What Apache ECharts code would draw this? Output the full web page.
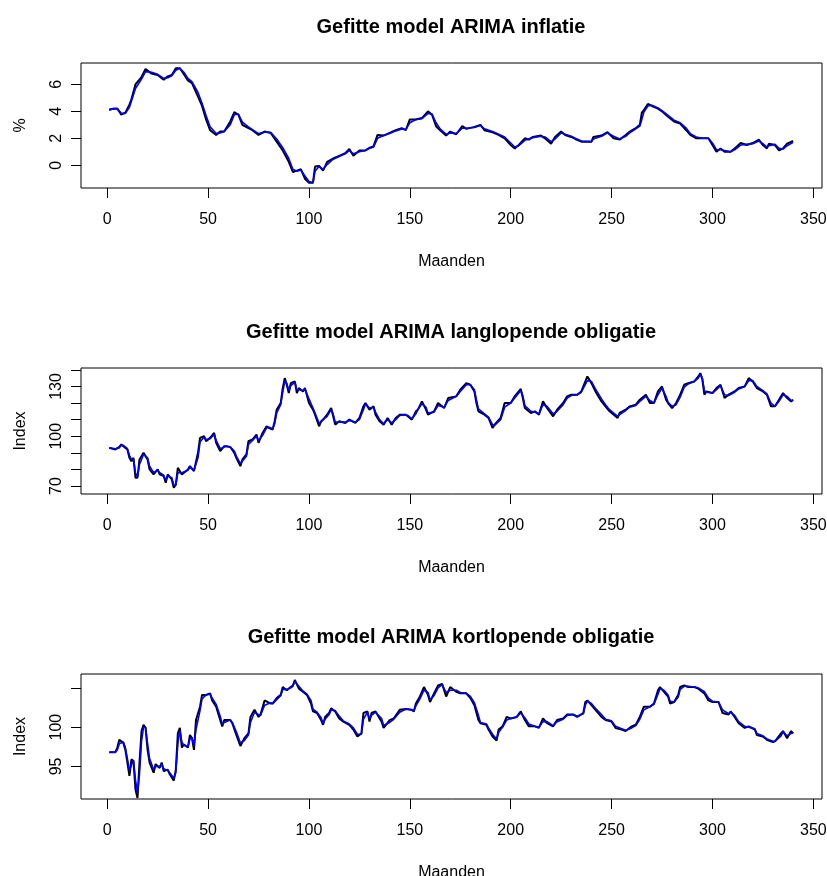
<!DOCTYPE html>
<html><head><meta charset="utf-8">
<script src="https://cdn.jsdelivr.net/npm/echarts@6/dist/echarts.min.js"></script>
<style>html,body{margin:0;padding:0;background:#fff}#c{width:827px;height:876px}</style>
</head><body><div id="c"></div>
<script>
// ---- data ----
const titles = ['Gefitte model ARIMA inflatie', 'Gefitte model ARIMA langlopende obligatie', 'Gefitte model ARIMA kortlopende obligatie'];
const xName = 'Maanden';
const yNames = ['%', 'Index', 'Index'];
const xTicks = [0, 50, 100, 150, 200, 250, 300, 350];

const yTicks1 = [0, 2, 4, 6];
const yLabels1 = [0, 2, 4, 6];
const yTicks2 = [70, 80, 90, 100, 110, 120, 130, 140];
const yLabels2 = [70, 100, 130];
const yTicks3 = [95, 100, 105];
const yLabels3 = [95, 100];

// Panel 1: inflatie
const months1 = [1,3,5,7,9,11,12,14,17,19,22,25,28,30,32,34,36,38,40,42,45,47,49,51,54,56,58,61,63,65,67,70,72,75,78,81,84,87,90,92,94,96,98,100,102,103,105,107,109,112,115,118,120,122,125,128,130,132,134,137,140,143,146,148,150,153,156,159,161,163,165,168,170,173,176,178,182,185,187,191,194,197,200,202,204,207,209,211,215,217,220,222,225,227,230,232,235,240,241,245,248,251,254,257,259,262,264,265,266,268,270,273,275,278,281,284,287,289,292,295,298,300,302,304,306,309,311,314,317,320,323,325,327,328,331,333,335,337,340];
const actual1 = [4.1,4.2,4.2,3.75,3.9,4.5,4.9,6.0,6.55,7.15,6.8,6.7,6.35,6.6,6.7,7.2,7.2,6.75,6.3,6.1,5.1,4.4,3.4,2.6,2.25,2.5,2.5,3.25,3.95,3.75,3.0,2.75,2.6,2.25,2.5,2.4,1.75,1.1,0.25,-0.5,-0.4,-0.3,-1.0,-1.3,-1.3,-0.1,-0.05,-0.4,0.25,0.5,0.7,0.9,1.2,0.7,1.1,1.1,1.3,1.4,2.25,2.2,2.4,2.6,2.75,2.6,3.4,3.4,3.5,4.0,3.75,2.9,2.6,2.2,2.5,2.3,2.9,2.7,2.85,3.0,2.6,2.45,2.25,2.0,1.5,1.25,1.5,2.0,1.9,2.1,2.2,2.0,1.6,2.1,2.5,2.25,2.1,1.95,1.75,1.75,2.1,2.2,2.45,2.0,1.9,2.25,2.5,2.75,3.0,3.9,4.1,4.55,4.4,4.2,4.0,3.6,3.25,3.1,2.6,2.25,2.0,2.0,2.0,1.5,1.0,1.25,1.0,1.0,1.25,1.65,1.5,1.65,1.9,1.5,1.25,1.6,1.5,1.1,1.25,1.6,1.8];
const fitted1 = [4.15,4.2,4.2,3.85,3.85,4.3,4.75,5.7,6.4,6.95,6.9,6.75,6.45,6.5,6.65,7.05,7.2,6.9,6.45,6.2,5.4,4.6,3.7,2.85,2.35,2.4,2.5,3.0,3.75,3.8,3.2,2.85,2.65,2.35,2.45,2.45,1.95,1.3,0.5,-0.3,-0.45,-0.35,-0.8,-1.2,-1.3,-0.45,-0.1,-0.3,0.05,0.45,0.65,0.85,1.1,0.85,1.0,1.1,1.25,1.35,2.0,2.2,2.35,2.55,2.7,2.65,3.15,3.4,3.45,3.85,3.8,3.15,2.7,2.3,2.4,2.35,2.75,2.75,2.8,2.95,2.7,2.5,2.3,2.1,1.65,1.35,1.45,1.85,1.95,2.05,2.15,2.1,1.75,1.95,2.4,2.3,2.15,2.0,1.8,1.75,1.95,2.15,2.4,2.15,1.95,2.15,2.4,2.7,2.9,3.4,3.95,4.4,4.45,4.25,4.05,3.7,3.35,3.15,2.75,2.35,2.1,2.0,2.0,1.65,1.15,1.15,1.1,1.0,1.15,1.5,1.55,1.6,1.8,1.6,1.35,1.45,1.55,1.25,1.2,1.45,1.7];

// Panel 2: langlopende obligatie
const months2 = [1,4,6,7,8,10,11,12,13,14,15,16,18,20,21,23,25,26,28,29,30,32,33,34,35,37,40,41,43,45,46,48,49,51,53,54,56,58,59,61,63,64,66,67,69,70,72,74,75,77,79,80,82,83,84,86,87,88,89,90,91,93,94,95,97,98,100,102,103,105,106,107,109,111,112,113,115,118,120,123,125,127,128,130,132,133,135,137,139,141,143,145,148,149,151,153,154,156,158,159,162,164,167,169,173,175,178,180,182,183,184,187,189,191,192,195,197,200,202,205,206,207,210,212,214,216,218,221,223,226,228,230,233,235,238,240,242,245,247,249,253,254,257,259,262,264,267,269,271,273,275,277,278,280,282,284,286,288,291,293,294,295,296,297,300,302,304,306,308,311,313,316,318,320,322,325,327,329,331,333,335,337,339,340];
const actual2 = [93,92,93.6,95,94,92,87,85,87,75,75,86,90,86,80,77,80,77,76,72,77,74,69,71,81,77,80,82,79,90,99,100,97,99,102,96,91,94,94,93.5,90,87,82,86,89,97,98,101,96,102,106,105,104,109,116,120,129,135,131,126,132,133,126,129,127,129,120,116,113,106,109,110,113,117,112,107,109,108,110,108,111,118,120,116,118,113,109,107,111,107,111,113,113,112,110,115,116,121,116,113,115,120,117,123,124,128,132,131,127,120,115,113,111,105,107,111,120,120,124,128.5,123,117,114,115,113,121,117,112,116,120,124,125,125,127,136,132,127,121,118,115,111,114,116,118,119,122,125,120,120,127,130,122,120,117,120,125,131,132,133,136,138,134,125,127,126,129,131,123,125,127,129,130,135,133,129,127,125,118,118,122,126,123,121,122];
const fitted2 = [93,92.5,93,94.5,94.5,92.5,88.5,86,86.5,78,75.5,83,89,87,82,78,79.5,78,76.5,73.5,76,75,70.5,70.5,78,78,79.5,81.5,79.5,87,96.5,99.5,98,98.5,101,97.5,92.5,93.5,94,93.5,91,88,83.5,85,88,95,97.5,100,97.5,100.5,105,105.5,104.5,107.5,114,119,126.5,133,132,127.5,130.5,132.5,128,128,127.5,128.5,122.5,117,114,108,108.5,110,112,116,113.5,108.5,108.5,108.5,109.5,108.5,110,116,119.5,117,117.5,114.5,110,107.5,110,108,110,112.5,113,112.5,110.5,113.5,116,119.5,117.5,114,114.5,118.5,117.5,121.5,124,127,131,131,128,122,116.5,113.5,111.5,107,106.5,110,117.5,120,123,127.5,124.5,118.5,115,114.5,113.5,119,118,113.5,115,119,123,124.5,125,126.5,133.5,133,128.5,122.5,119,116,112,113,115.5,117.5,118.5,121,124,121.5,120,125,129,124,120.5,118,119,123.5,129.5,131.5,133,135,137.5,135,127.5,126.5,126,128,130.5,125,124.5,126.5,128.5,130,133.5,133.5,130,127.5,125.5,120,118,121,125,124,121.5,121.5];

// Panel 3: kortlopende obligatie
const months3 = [1,4,5,6,8,9,10,11,12,13,14,15,16,17,18,19,20,21,23,24,26,27,28,30,31,33,34,35,36,37,38,40,41,42,43,44,46,47,49,51,52,54,56,57,58,61,62,64,66,68,70,71,73,75,76,78,81,82,84,86,87,89,91,92,93,95,97,99,101,102,104,106,107,108,110,111,113,115,117,120,122,124,126,127,129,130,131,133,136,137,140,142,145,148,151,152,153,155,157,159,160,162,164,166,168,170,173,175,178,180,182,184,185,188,189,191,193,194,196,198,200,203,205,207,209,212,214,216,218,221,223,226,228,231,233,236,237,238,240,242,245,247,250,252,255,257,260,262,264,266,269,271,273,274,276,278,279,281,283,284,286,288,291,293,296,298,300,303,305,308,309,311,313,316,318,321,322,325,327,330,331,334,335,337,339,340];
const actual3 = [96.8,96.8,97.4,98.4,98.0,97.1,95.5,93.8,95.9,95.7,92.1,91.0,95.5,99.5,100.3,99.9,97.1,95.5,94.2,95.3,94.8,95.5,94.4,94.6,94.0,93.2,94.6,99.2,99.9,97.4,97.8,97.4,99.0,98.6,97.1,100.9,102.6,104.1,104.1,104.3,103.4,102.6,100.9,100.1,100.9,100.9,100.5,99.0,97.6,98.6,99.2,101.3,102.2,101.3,101.6,103.4,103.0,103.0,103.7,104.1,105.1,104.7,105.1,105.3,106.0,104.9,104.5,104.1,103.0,102.0,101.8,100.9,100.3,101.3,101.8,102.4,102.0,101.1,100.7,100.3,99.7,98.8,99.2,101.8,102.0,100.7,101.8,102.0,100.7,99.9,100.9,101.1,102.2,102.3,102.2,102.0,103.0,103.9,105.1,104.1,103.2,104.3,105.3,105.5,103.9,105.1,104.5,104.3,104.3,103.7,102.8,100.9,100.5,100.3,99.7,98.8,98.3,99.7,100.1,101.3,101.1,101.3,102.0,100.9,100.1,100.1,99.9,101.1,100.5,100.1,100.9,101.1,101.6,101.6,101.3,101.8,103.2,103.4,102.8,102.2,101.3,100.9,100.7,99.9,99.7,99.5,100.1,100.3,101.3,102.6,102.6,103.0,104.7,105.1,104.5,103.9,103.0,103.2,104.1,105.1,105.3,105.1,105.1,104.9,104.3,103.4,103.2,103.2,101.8,101.6,102.0,101.3,100.5,99.9,100.1,99.7,99.0,98.8,98.4,98.1,98.2,99.2,99.5,98.6,99.5,99.2];
const fitted3 = [96.8,96.8,97.1,97.9,98.1,97.4,96.0,94.5,95.2,95.8,93.3,91.6,94.0,98.2,100.0,100.0,97.9,96.0,94.6,95.0,95.0,95.3,94.7,94.5,94.2,93.5,94.2,97.8,99.6,98.1,97.7,97.5,98.5,98.7,97.6,99.7,102.1,103.6,104.1,104.2,103.7,102.9,101.4,100.4,100.6,100.9,100.6,99.4,98.0,98.3,99.0,100.6,101.9,101.6,101.5,102.8,103.1,103.0,103.5,104.0,104.8,104.8,105.0,105.2,105.8,105.2,104.6,104.2,103.4,102.3,101.9,101.2,100.5,101.0,101.6,102.2,102.1,101.4,100.8,100.4,99.9,99.1,99.1,101.0,101.9,101.1,101.5,101.9,101.1,100.2,100.6,101.0,101.9,102.3,102.2,102.1,102.7,103.6,104.7,104.4,103.5,104.0,105.0,105.4,104.4,104.7,104.7,104.4,104.3,103.9,103.1,101.5,100.6,100.4,99.9,99.1,98.5,99.3,100.0,100.9,101.1,101.3,101.8,101.2,100.4,100.1,100.0,100.7,100.7,100.2,100.7,101.0,101.5,101.6,101.4,101.7,102.8,103.3,103.0,102.4,101.6,101.0,100.8,100.1,99.8,99.6,99.9,100.2,101.0,102.2,102.6,102.9,104.2,104.9,104.7,104.1,103.3,103.2,103.8,104.8,105.2,105.2,105.1,105.0,104.5,103.7,103.3,103.2,102.2,101.7,101.9,101.5,100.7,100.1,100.0,99.8,99.2,98.9,98.5,98.2,98.2,98.9,99.4,98.9,99.2,99.3];

// ---- layout / style ----
const FONT = '"Liberation Sans", Arial, Helvetica, sans-serif';
const panels = [
  {top: 63, height: 125, min: -1.69, max: 7.59, ticks: yTicks1, labels: yLabels1, months: months1, act: actual1, fit: fitted1, titleTop: 17},
  {top: 368, height: 126, min: 65.2, max: 141.1, ticks: yTicks2, labels: yLabels2, months: months2, act: actual2, fit: fitted2, titleTop: 322},
  {top: 674, height: 125, min: 90.86, max: 106.76, ticks: yTicks3, labels: yLabels3, months: months3, act: actual3, fit: fitted3, titleTop: 627}
];

const zip = (xs, ys) => xs.map((x, i) => [x, ys[i]]);

const option = {
  animation: false,
  backgroundColor: '#ffffff',
  textStyle: {fontFamily: FONT},
  title: panels.map((p, i) => ({
    text: titles[i], left: 451, top: p.titleTop, textAlign: 'center', padding: 0,
    textStyle: {fontFamily: FONT, fontWeight: 'bold', fontSize: 20, color: '#000'}
  })),
  grid: panels.map(p => ({
    left: 81, top: p.top, width: 741, height: p.height, show: true,
    borderColor: '#000', borderWidth: 1, backgroundColor: 'transparent',
    containLabel: false, outerBoundsMode: 'none'
  })),
  xAxis: panels.map((p, i) => ({
    gridIndex: i, type: 'value', min: -13, max: 354.3, position: 'bottom',
    name: xName, nameLocation: 'middle', nameGap: 66,
    nameTextStyle: {fontFamily: FONT, fontSize: 16, color: '#000'},
    axisLine: {show: false, onZero: false},
    splitLine: {show: false},
    axisTick: {show: true, inside: false, length: 10, customValues: xTicks, lineStyle: {color: '#000', width: 1}},
    axisLabel: {show: true, margin: 24, customValues: xTicks, fontFamily: FONT, fontSize: 16, color: '#000'}
  })),
  yAxis: panels.map((p, i) => ({
    gridIndex: i, type: 'value', min: p.min, max: p.max, position: 'left',
    name: yNames[i], nameLocation: 'middle', nameGap: 52, nameRotate: 90,
    nameTextStyle: {fontFamily: FONT, fontSize: 16, color: '#000'},
    axisLine: {show: false, onZero: false},
    splitLine: {show: false},
    axisTick: {show: true, inside: false, length: 10, customValues: p.ticks, lineStyle: {color: '#000', width: 1}},
    axisLabel: {show: true, rotate: 90, margin: 16, customValues: p.labels, fontFamily: FONT, fontSize: 16, color: '#000'}
  })),
  series: []
};

panels.forEach((p, i) => {
  option.series.push({
    type: 'line', xAxisIndex: i, yAxisIndex: i, data: zip(p.months, p.act),
    showSymbol: false, symbol: 'none', lineStyle: {color: '#000000', width: 2}, z: 2, silent: true
  });
  option.series.push({
    type: 'line', xAxisIndex: i, yAxisIndex: i, data: zip(p.months, p.fit),
    showSymbol: false, symbol: 'none', lineStyle: {color: '#0000ff', width: 1.6}, z: 3, silent: true
  });
});

const chart = echarts.init(document.getElementById('c'), null, {renderer: 'canvas'});
chart.setOption(option);
</script>
</body></html>
